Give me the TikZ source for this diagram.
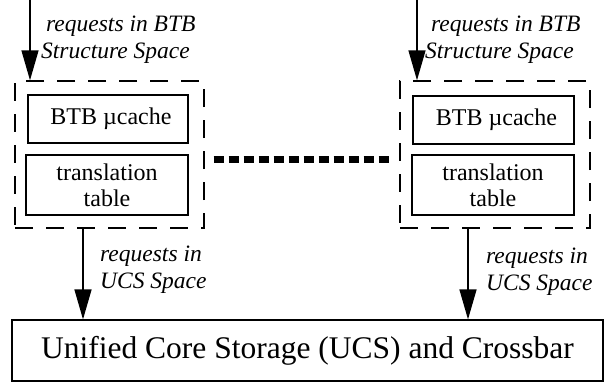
\documentclass[tikz,border=0pt]{standalone}
\usepackage{fontspec}
\setmainfont{Liberation Serif}
\usetikzlibrary{arrows.meta}
\begin{document}
\begin{tikzpicture}[x=1pt,y=-1pt,
  unit/.style={draw,line width=1.2pt,inner sep=0pt,align=center,
    font=\fontsize{24}{26}\selectfont},
  group/.style={draw,line width=1.4pt,dash pattern=on 18pt off 13pt,inner sep=0pt},
  req/.style={line width=1.4pt,-{Triangle[length=30pt,width=17pt]}},
  lbl/.style={anchor=north west,inner sep=0pt,align=left,
    font=\fontsize{23.5}{27}\selectfont\itshape},
  link/.style={line width=7pt,dash pattern=on 10pt off 5pt}]
\useasboundingbox (0,0) rectangle (608,383);

% left BTB structure
\node[group,minimum width=189pt,minimum height=147pt] (lg) at (109.5,154.5) {};
\node[unit,minimum width=160pt,minimum height=48pt] (lbtb) at (108,119) {\hspace*{6pt}BTB µcache};
\node[unit,minimum width=162pt,minimum height=60pt] (ltt) at (107,185) {translation\\table};

% right BTB structure
\node[group,minimum width=190pt,minimum height=147pt] (rg) at (495,154.5) {};
\node[unit,minimum width=161pt,minimum height=48pt] (rbtb) at (493.5,120) {\hspace*{6pt}BTB µcache};
\node[unit,minimum width=162pt,minimum height=60pt] (rtt) at (493,185) {translation\\table};

% shared storage
\node[draw,line width=1.2pt,inner sep=0pt,minimum width=591pt,minimum height=61pt,
  font=\fontsize{31.5}{34}\selectfont] (ucs) at (307.5,350.5) {Unified Core Storage (UCS) and Crossbar};

% incoming requests
\coordinate (lin) at (30,0);
\coordinate (rin) at (417,0);
\draw[req] (lin) -- (lin |- lg.north);
\draw[req] (rin) -- (rin |- rg.north);
\node[lbl] (lreq) at (41,16) {\hspace*{5pt}requests in BTB\\Structure Space};
\node[lbl] (rreq) at (425,16) {\hspace*{6pt}requests in BTB\\Structure Space};

% outgoing requests
\coordinate (lout) at (83,0);
\coordinate (rout) at (468,0);
\draw[req] (lg.south -| lout) -- (ucs.north -| lout);
\draw[req] (rg.south -| rout) -- (ucs.north -| rout);
\node[lbl] (lucs) at (100,246) {requests in\\UCS Space};
\node[lbl] (rucs) at (486,248) {requests in\\UCS Space};

% replicated structures in between
\draw[link] ([xshift=9pt]lg.east |- 0,159) -- ([xshift=-7pt]rg.west |- 0,159);
\end{tikzpicture}
\end{document}
